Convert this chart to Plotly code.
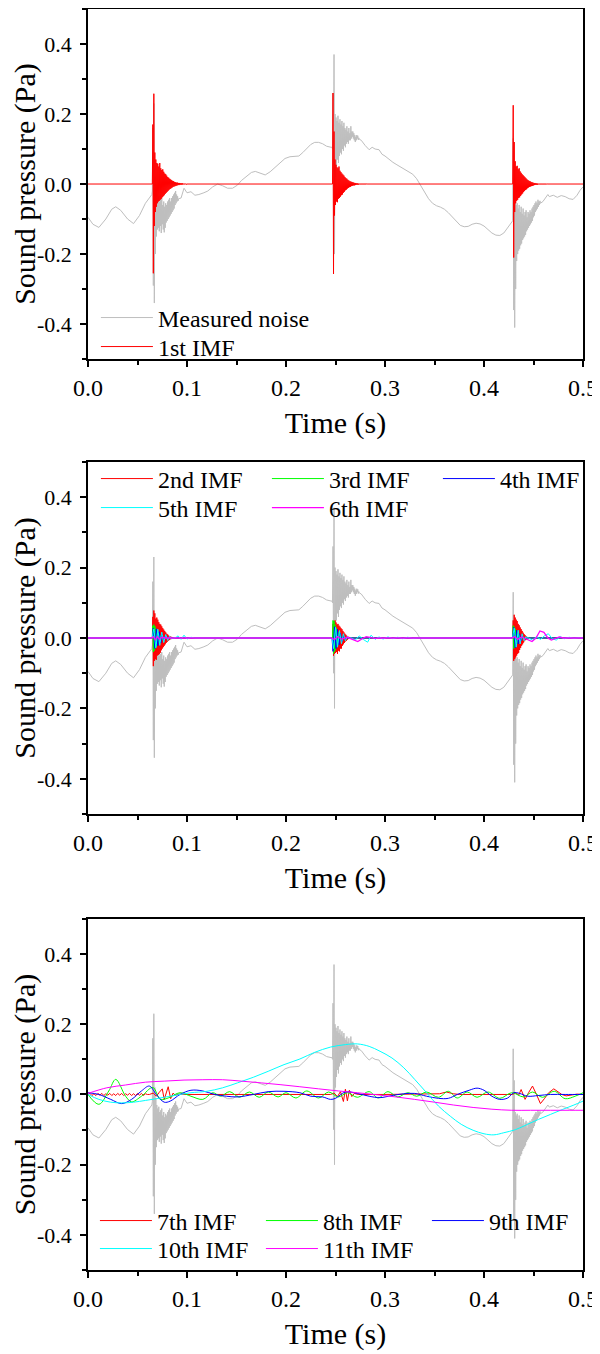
import plotly.graph_objects as go

DT = 0.0005      # sampling step of the burst segments (s)
FUZZ_DT = 0.002  # sampling step of the 7th-IMF ripple segment (s)

# ---------------- tick labels ----------------
time_ticks = [0.0, 0.1, 0.2, 0.3, 0.4, 0.5]
time_tick_labels = ["0.0", "0.1", "0.2", "0.3", "0.4", "0.5"]
pressure_ticks = [-0.4, -0.2, 0.0, 0.2, 0.4]
pressure_tick_labels = ["-0.4", "-0.2", "0.0", "0.2", "0.4"]

# ---------------- measured noise (gray) ----------------
noise_pre_t = [0.000, 0.005, 0.011, 0.018, 0.024, 0.028, 0.033, 0.040, 0.046, 0.052, 0.058, 0.063]
noise_pre_p = [-0.095, -0.115, -0.124, -0.100, -0.072, -0.065, -0.075, -0.100, -0.113, -0.090, -0.055, -0.035]
noise_burst1_start = 0.0645
noise_burst1_p = [-0.030, -0.020, 0.160, -0.290, 0.230, -0.340, 0.020, -0.200, -0.010, -0.150,
                  -0.030, -0.130, -0.040, -0.125, -0.035, -0.135, -0.050, -0.120, -0.045, -0.140,
                  -0.040, -0.115, -0.060, -0.130, -0.050, -0.138, -0.065, -0.125, -0.055, -0.110,
                  -0.060, -0.105, -0.050, -0.100, -0.045, -0.095, -0.040, -0.090, -0.050, -0.085,
                  -0.040, -0.080, -0.035, -0.075, -0.030, -0.070, -0.025, -0.060, -0.020, -0.055,
                  -0.030, -0.050, -0.035, -0.048, -0.042]
noise_mid1_t = [0.094, 0.097, 0.100, 0.104, 0.108, 0.112, 0.117, 0.121, 0.126, 0.131,
                0.136, 0.141, 0.146, 0.151, 0.155, 0.160, 0.165, 0.169, 0.174, 0.179,
                0.184, 0.189, 0.194, 0.199, 0.204, 0.209, 0.213, 0.217, 0.221, 0.225,
                0.229, 0.233, 0.237, 0.241, 0.2455]
noise_mid1_p = [-0.040, -0.012, -0.025, -0.022, -0.032, -0.030, -0.025, -0.020, -0.008, 0.000,
                -0.005, -0.012, -0.012, -0.003, 0.010, 0.022, 0.033, 0.036, 0.030, 0.026,
                0.035, 0.048, 0.062, 0.073, 0.078, 0.079, 0.080, 0.090, 0.102, 0.113,
                0.119, 0.119, 0.115, 0.108, 0.105]
noise_burst2_start = 0.2465
noise_burst2_p = [0.105, 0.100, 0.260, -0.100, 0.370, -0.200, 0.200, 0.020, 0.190, 0.050,
                  0.180, 0.070, 0.195, 0.060, 0.175, 0.080, 0.185, 0.090, 0.170, 0.085,
                  0.180, 0.100, 0.165, 0.095, 0.175, 0.110, 0.160, 0.105, 0.155, 0.115,
                  0.165, 0.120, 0.150, 0.115, 0.160, 0.125, 0.145, 0.125, 0.165, 0.130,
                  0.150, 0.135, 0.150, 0.130, 0.145, 0.125, 0.140, 0.120, 0.135, 0.125,
                  0.140, 0.130, 0.138, 0.126, 0.132, 0.128]
noise_mid2_t = [0.276, 0.280, 0.284, 0.287, 0.290, 0.294, 0.297, 0.300, 0.304, 0.308,
                0.312, 0.316, 0.320, 0.324, 0.328, 0.332, 0.336, 0.340, 0.344, 0.348,
                0.352, 0.356, 0.360, 0.364, 0.368, 0.372, 0.376, 0.380, 0.384, 0.388,
                0.392, 0.396, 0.400, 0.404, 0.408, 0.412, 0.416, 0.420, 0.424, 0.4275]
noise_mid2_p = [0.125, 0.110, 0.098, 0.105, 0.100, 0.098, 0.085, 0.080, 0.070, 0.062,
                0.055, 0.048, 0.042, 0.035, 0.028, 0.015, -0.005, -0.025, -0.042, -0.055,
                -0.062, -0.066, -0.072, -0.082, -0.095, -0.108, -0.118, -0.122, -0.121, -0.115,
                -0.112, -0.114, -0.120, -0.130, -0.140, -0.146, -0.147, -0.140, -0.125, -0.112]
noise_burst3_start = 0.4285
noise_burst3_p = [-0.110, -0.105, 0.130, -0.360, 0.040, -0.410, -0.050, -0.300, -0.060, -0.220,
                  -0.055, -0.200, -0.070, -0.190, -0.060, -0.185, -0.080, -0.175, -0.065, -0.170,
                  -0.085, -0.160, -0.070, -0.155, -0.090, -0.150, -0.080, -0.145, -0.075, -0.135,
                  -0.095, -0.130, -0.080, -0.125, -0.085, -0.120, -0.075, -0.115, -0.080, -0.110,
                  -0.070, -0.105, -0.065, -0.095, -0.060, -0.090, -0.055, -0.080, -0.050, -0.075,
                  -0.055, -0.070, -0.045, -0.065, -0.050, -0.060, -0.048, -0.055]
noise_post_t = [0.4595, 0.462, 0.4645, 0.466, 0.470, 0.474, 0.478, 0.482, 0.486, 0.490, 0.494, 0.497, 0.500]
noise_post_p = [-0.050, -0.040, -0.030, -0.036, -0.032, -0.038, -0.033, -0.036, -0.042, -0.044, -0.032, -0.018, -0.008]

# ---------------- 1st IMF ----------------
burst_starts = [0.065, 0.247, 0.429]
imf1_burst1 = [0.000, 0.170, -0.255, 0.258, -0.120, 0.090, -0.080, 0.070, -0.065, 0.060,
               -0.055, 0.058, -0.050, 0.050, -0.048, 0.060, -0.045, 0.045, -0.042, 0.040,
               -0.038, 0.042, -0.035, 0.035, -0.032, 0.030, -0.028, 0.028, -0.025, 0.024,
               -0.022, 0.020, -0.019, 0.018, -0.016, 0.015, -0.014, 0.013, -0.012, 0.011,
               -0.010, 0.009, -0.008, 0.008, -0.007, 0.006, -0.006, 0.005, -0.005, 0.004,
               -0.004, 0.004, -0.003, 0.003, -0.003, 0.003, -0.002, 0.002, -0.002, 0.002,
               -0.002, 0.002, -0.001, 0.001, -0.001, 0.001, -0.001, 0.001, -0.001, 0.001,
               0.000]
imf1_burst2 = [0.000, 0.260, -0.257, 0.150, -0.090, 0.070, -0.060, 0.055, -0.050, 0.048,
               -0.052, 0.045, -0.042, 0.050, -0.040, 0.038, -0.036, 0.034, -0.032, 0.030,
               -0.030, 0.027, -0.025, 0.024, -0.022, 0.020, -0.018, 0.017, -0.016, 0.015,
               -0.013, 0.012, -0.011, 0.010, -0.009, 0.008, -0.008, 0.007, -0.006, 0.006,
               -0.005, 0.005, -0.004, 0.004, -0.004, 0.003, -0.003, 0.003, -0.002, 0.002,
               -0.002, 0.002, -0.002, 0.001, -0.001, 0.001, -0.001, 0.001, -0.001, 0.001,
               -0.001, 0.001, -0.001, 0.001, -0.001, 0.001, -0.001, 0.001, -0.001, 0.001,
               0.000]
imf1_burst3 = [0.000, 0.225, -0.210, 0.120, -0.080, 0.065, -0.055, 0.050, -0.048, 0.052,
               -0.045, 0.042, -0.040, 0.045, -0.038, 0.036, -0.034, 0.032, -0.030, 0.028,
               -0.027, 0.025, -0.023, 0.022, -0.020, 0.019, -0.017, 0.016, -0.015, 0.013,
               -0.012, 0.011, -0.010, 0.009, -0.008, 0.008, -0.007, 0.006, -0.006, 0.005,
               -0.005, 0.004, -0.004, 0.003, -0.003, 0.003, -0.002, 0.002, -0.002, 0.002,
               -0.002, 0.001, -0.001, 0.001, -0.001, 0.001, -0.001, 0.001, -0.001, 0.001,
               -0.001, 0.001, -0.001, 0.001, -0.001, 0.001, -0.001, 0.001, -0.001, 0.001,
               0.000]

# ---------------- 2nd - 6th IMF ----------------
imf2_burst1 = [0.000, 0.060, -0.080, 0.078, -0.065, 0.070, -0.060, 0.055, -0.062, 0.058,
               -0.050, 0.052, -0.048, 0.045, -0.046, 0.040, -0.042, 0.038, -0.035, 0.033,
               -0.030, 0.028, -0.026, 0.024, -0.022, 0.020, -0.018, 0.016, -0.014, 0.012,
               -0.011, 0.010, -0.008, 0.007, -0.006, 0.005, -0.004, 0.004, -0.003, 0.003,
               -0.002, 0.002, -0.002, 0.001, -0.001, 0.001, 0.000]
imf2_burst2 = [0.000, 0.040, -0.050, 0.048, -0.045, 0.050, -0.042, 0.044, -0.040, 0.038,
               -0.045, 0.040, -0.036, 0.035, -0.038, 0.032, -0.030, 0.028, -0.030, 0.025,
               -0.022, 0.020, -0.018, 0.016, -0.014, 0.012, -0.010, 0.009, -0.008, 0.006,
               -0.005, 0.004, -0.003, 0.003, -0.002, 0.002, -0.001, 0.001, 0.000]
imf2_burst3 = [0.000, 0.050, -0.065, 0.066, -0.060, 0.058, -0.055, 0.052, -0.050, 0.048,
               -0.045, 0.040, -0.042, 0.036, -0.034, 0.030, -0.028, 0.025, -0.022, 0.020,
               -0.018, 0.015, -0.013, 0.011, -0.009, 0.008, -0.006, 0.005, -0.004, 0.003,
               -0.002, 0.002, -0.001, 0.001, 0.000]
imf3_burst1 = [0.000, 0.035, -0.040, 0.038, -0.036, 0.034, -0.030, 0.028, -0.026, 0.022,
               -0.020, 0.017, -0.015, 0.012, -0.010, 0.008, -0.006, 0.005, -0.004, 0.003,
               -0.002, 0.001, 0.000]
imf3_burst2 = [0.000, 0.050, -0.045, 0.048, -0.040, 0.038, -0.035, 0.030, -0.028, 0.024,
               -0.020, 0.017, -0.014, 0.011, -0.009, 0.007, -0.005, 0.004, -0.003, 0.002,
               -0.001, 0.000]
imf3_burst3 = [0.000, 0.035, -0.030, 0.032, -0.028, 0.026, -0.024, 0.020, -0.018, 0.015,
               -0.012, 0.010, -0.008, 0.006, -0.004, 0.003, -0.002, 0.001, 0.000]
imf4_burst1 = [0.000, 0.015, 0.028, 0.010, -0.020, -0.030, -0.012, 0.018, 0.026, 0.010,
               -0.016, -0.022, -0.008, 0.014, 0.018, 0.006, -0.011, -0.014, -0.005, 0.008,
               0.010, 0.003, -0.006, -0.007, -0.002, 0.004, 0.005, 0.001, -0.003, -0.003,
               0.000, 0.002, 0.001, 0.000]
imf4_burst2 = [0.000, -0.020, -0.038, -0.015, 0.020, 0.032, 0.012, -0.022, -0.030, -0.010,
               0.018, 0.025, 0.008, -0.014, -0.020, -0.006, 0.011, 0.014, 0.004, -0.008,
               -0.010, -0.003, 0.005, 0.006, 0.002, -0.003, -0.004, -0.001, 0.002, 0.002,
               0.000]
imf4_burst3 = [0.000, 0.018, 0.030, 0.010, -0.020, -0.028, -0.010, 0.016, 0.022, 0.007,
               -0.013, -0.017, -0.005, 0.010, 0.012, 0.004, -0.007, -0.008, -0.002, 0.004,
               0.005, 0.001, -0.002, -0.002, 0.000]
imf5_burst1 = [0.000, 0.012, 0.022, 0.026, 0.015, -0.005, -0.022, -0.028, -0.018, 0.002,
               0.020, 0.025, 0.016, -0.002, -0.017, -0.021, -0.012, 0.003, 0.014, 0.017,
               0.010, -0.002, -0.011, -0.013, -0.008, 0.001, 0.008, 0.010, 0.006, -0.001,
               -0.006, -0.007, -0.004, 0.001, 0.004, 0.005, 0.003, 0.000, -0.003, -0.003,
               -0.002, 0.000]
imf5_tail1_t = [0.0865, 0.089, 0.091, 0.094, 0.097, 0.100, 0.104, 0.108]
imf5_tail1_p = [0.000, 0.002, 0.006, -0.004, 0.008, -0.003, 0.002, 0.000]
imf5_burst2 = [0.000, -0.010, -0.025, -0.030, -0.020, 0.002, 0.022, 0.030, 0.020, -0.002,
               -0.020, -0.026, -0.016, 0.002, 0.017, 0.021, 0.012, -0.002, -0.013, -0.016,
               -0.010, 0.001, 0.010, 0.012, 0.007, -0.001, -0.007, -0.008, -0.005, 0.000,
               0.004, 0.005, 0.003, 0.000, -0.002, -0.002, 0.000]
imf5_tail2_t = [0.266, 0.270, 0.274, 0.278, 0.2825, 0.286, 0.290, 0.294, 0.298, 0.303,
                0.308, 0.313, 0.318, 0.323, 0.328, 0.333]
imf5_tail2_p = [0.000, -0.006, 0.006, -0.004, -0.012, 0.008, -0.004, 0.003, -0.003, 0.003,
                -0.002, 0.002, -0.002, 0.002, -0.001, 0.000]
imf5_burst3 = [0.000, 0.012, 0.024, 0.028, 0.016, -0.004, -0.022, -0.026, -0.015, 0.003,
               0.018, 0.022, 0.012, -0.003, -0.014, -0.017, -0.009, 0.002, 0.010, 0.012,
               0.006, -0.002, -0.007, -0.008, -0.004, 0.001, 0.004, 0.004, 0.002, 0.000]
imf5_tail3_t = [0.445, 0.449, 0.453, 0.457, 0.461, 0.465, 0.469, 0.473, 0.477, 0.481,
                0.486, 0.491, 0.496, 0.500]
imf5_tail3_p = [0.000, -0.006, 0.004, -0.004, 0.006, 0.012, -0.002, -0.006, 0.004, -0.002,
                0.002, -0.001, 0.001, 0.000]
imf6_t = [0.000, 0.064, 0.066, 0.068, 0.070, 0.072, 0.075, 0.078, 0.246, 0.249,
          0.252, 0.256, 0.262, 0.268, 0.2725, 0.277, 0.281, 0.286, 0.290, 0.295,
          0.428, 0.431, 0.434, 0.438, 0.443, 0.4485, 0.4525, 0.4565, 0.4605, 0.4645,
          0.468, 0.472, 0.476, 0.480, 0.500]
imf6_p = [0.000, 0.000, 0.004, -0.005, 0.004, -0.003, 0.002, 0.000, 0.000, -0.005,
          0.004, -0.003, 0.002, -0.004, -0.010, -0.002, 0.004, 0.001, -0.001, 0.000,
          0.000, 0.004, -0.004, 0.003, -0.004, -0.010, 0.000, 0.020, 0.016, 0.000,
          -0.006, -0.002, 0.003, 0.000, 0.000]

# ---------------- 7th - 11th IMF ----------------
imf7_ripple = [0.000, 0.003, -0.003, 0.002, -0.003, 0.003, -0.002, 0.003, -0.003, 0.002,
               -0.002, 0.003, -0.003, 0.002, -0.003, 0.003, -0.002, 0.003, -0.003, 0.002,
               -0.002, 0.003, -0.003, 0.002, -0.003, 0.003, -0.002, 0.003, -0.003, 0.002,
               0.000]
imf7_t = [0.062, 0.066, 0.069, 0.072, 0.075, 0.077, 0.079, 0.081, 0.0835, 0.086,
          0.088, 0.092, 0.100, 0.140, 0.180, 0.220, 0.245, 0.2485, 0.252, 0.255,
          0.258, 0.260, 0.262, 0.264, 0.2665, 0.269, 0.273, 0.300, 0.340, 0.355,
          0.362, 0.369, 0.375, 0.420, 0.429, 0.432, 0.435, 0.4375, 0.4415, 0.445,
          0.449, 0.453, 0.457, 0.461, 0.465, 0.4705, 0.4745, 0.4785, 0.483, 0.488,
          0.494, 0.500]
imf7_p = [0.000, 0.004, -0.005, 0.006, 0.016, -0.014, 0.008, 0.022, -0.012, 0.004,
          -0.002, 0.001, 0.000, 0.000, 0.001, 0.000, 0.000, 0.004, -0.006, 0.008,
          -0.020, 0.015, -0.018, 0.012, -0.006, 0.003, 0.000, 0.000, 0.000, 0.002,
          0.007, 0.002, 0.000, 0.000, 0.000, 0.005, -0.002, 0.014, -0.014, 0.005,
          0.024, 0.000, -0.026, -0.012, 0.004, 0.016, 0.008, 0.000, -0.004, -0.002,
          0.001, 0.000]
imf8_t = [0.000, 0.011, 0.021, 0.028, 0.038, 0.044, 0.054, 0.0655, 0.073, 0.081,
          0.093, 0.104, 0.116, 0.126, 0.134, 0.143, 0.153, 0.163, 0.173, 0.182,
          0.192, 0.200, 0.210, 0.221, 0.233, 0.243, 0.253, 0.262, 0.272, 0.284,
          0.293, 0.303, 0.313, 0.323, 0.332, 0.342, 0.354, 0.364, 0.373, 0.383,
          0.393, 0.404, 0.416, 0.428, 0.440, 0.449, 0.459, 0.471, 0.482, 0.492,
          0.500]
imf8_p = [0.000, -0.028, 0.010, 0.043, -0.005, -0.021, -0.005, 0.020, -0.014, -0.010,
          0.005, -0.005, -0.014, 0.005, -0.005, 0.008, -0.008, 0.007, -0.008, 0.007,
          -0.007, 0.005, -0.010, 0.010, -0.010, 0.007, -0.007, 0.005, -0.008, 0.008,
          -0.010, 0.008, -0.007, 0.005, -0.005, 0.007, -0.008, 0.009, -0.010, 0.007,
          -0.008, 0.007, -0.011, 0.005, -0.007, 0.007, -0.008, 0.009, -0.012, -0.005,
          0.005]
imf9_t = [0.000, 0.011, 0.023, 0.034, 0.044, 0.054, 0.062, 0.069, 0.077, 0.083,
          0.093, 0.104, 0.116, 0.128, 0.140, 0.151, 0.167, 0.182, 0.198, 0.214,
          0.225, 0.237, 0.245, 0.250, 0.260, 0.272, 0.284, 0.295, 0.307, 0.319,
          0.330, 0.342, 0.354, 0.364, 0.373, 0.385, 0.393, 0.400, 0.408, 0.416,
          0.424, 0.430, 0.436, 0.444, 0.455, 0.467, 0.482, 0.500]
imf9_p = [0.005, 0.000, -0.014, -0.026, -0.014, 0.010, 0.024, 0.000, -0.022, -0.019,
          0.000, 0.012, 0.010, 0.000, -0.005, -0.007, 0.000, 0.008, 0.009, 0.005,
          -0.005, -0.007, -0.014, -0.011, 0.007, 0.003, -0.005, -0.009, -0.003, 0.002,
          0.003, -0.005, -0.011, -0.011, 0.000, 0.012, 0.018, 0.012, -0.005, -0.014,
          -0.010, 0.005, 0.003, -0.005, -0.003, 0.000, 0.000, 0.000]
imf10_t = [0.000, 0.011, 0.023, 0.034, 0.046, 0.058, 0.069, 0.081, 0.093, 0.104,
           0.120, 0.136, 0.151, 0.167, 0.182, 0.198, 0.214, 0.229, 0.245, 0.260,
           0.272, 0.284, 0.295, 0.307, 0.319, 0.330, 0.342, 0.354, 0.366, 0.377,
           0.389, 0.400, 0.410, 0.420, 0.432, 0.444, 0.455, 0.467, 0.479, 0.490,
           0.500]
imf10_p = [0.000, -0.014, -0.022, -0.024, -0.022, -0.017, -0.012, -0.006, 0.000, 0.005,
           0.009, 0.019, 0.033, 0.049, 0.066, 0.085, 0.101, 0.120, 0.135, 0.142,
           0.144, 0.137, 0.123, 0.104, 0.076, 0.043, 0.005, -0.033, -0.062, -0.085,
           -0.102, -0.112, -0.115, -0.109, -0.100, -0.085, -0.071, -0.057, -0.043, -0.031,
           -0.019]
imf11_t = [0.000, 0.019, 0.038, 0.058, 0.077, 0.097, 0.116, 0.136, 0.155, 0.175,
           0.194, 0.214, 0.233, 0.253, 0.272, 0.292, 0.311, 0.330, 0.350, 0.369,
           0.389, 0.408, 0.428, 0.447, 0.467, 0.486, 0.500]
imf11_p = [0.003, 0.019, 0.027, 0.035, 0.038, 0.041, 0.042, 0.042, 0.038, 0.033,
           0.028, 0.022, 0.016, 0.010, 0.005, -0.001, -0.007, -0.014, -0.022, -0.030,
           -0.037, -0.042, -0.045, -0.045, -0.045, -0.045, -0.045]

# ---------------- colours ----------------
GRAY = "#BEBEBE"
RED = "#FF0000"
GREEN = "#00FF00"
BLUE = "#0000FF"
CYAN = "#00FFFF"
MAGENTA = "#FF00FF"
FONT = "Liberation Serif"


def seg(start, vals, step=DT):
    return [round(start + i * step, 6) for i in range(len(vals))], list(vals)


def assemble(*pieces):
    t, p = [], []
    for pt, pp in pieces:
        t += list(pt)
        p += list(pp)
    return t, p


ZERO_START = ([0.0], [0.0])
ZERO_END = ([0.5], [0.0])

noise = assemble((noise_pre_t, noise_pre_p), seg(noise_burst1_start, noise_burst1_p),
                 (noise_mid1_t, noise_mid1_p), seg(noise_burst2_start, noise_burst2_p),
                 (noise_mid2_t, noise_mid2_p), seg(noise_burst3_start, noise_burst3_p),
                 (noise_post_t, noise_post_p))

imf1 = assemble(ZERO_START, seg(burst_starts[0], imf1_burst1), seg(burst_starts[1], imf1_burst2),
                seg(burst_starts[2], imf1_burst3), ZERO_END)
imf2 = assemble(ZERO_START, seg(burst_starts[0], imf2_burst1), seg(burst_starts[1], imf2_burst2),
                seg(burst_starts[2], imf2_burst3), ZERO_END)
imf3 = assemble(ZERO_START, seg(burst_starts[0], imf3_burst1), seg(burst_starts[1], imf3_burst2),
                seg(burst_starts[2], imf3_burst3), ZERO_END)
imf4 = assemble(ZERO_START, seg(burst_starts[0], imf4_burst1), seg(0.2465, imf4_burst2),
                seg(burst_starts[2], imf4_burst3), ZERO_END)
imf5 = assemble(ZERO_START, seg(burst_starts[0], imf5_burst1), (imf5_tail1_t, imf5_tail1_p),
                seg(0.2465, imf5_burst2), (imf5_tail2_t, imf5_tail2_p),
                seg(burst_starts[2], imf5_burst3), (imf5_tail3_t, imf5_tail3_p))
imf6 = (imf6_t, imf6_p)
imf7 = assemble(seg(0.0, imf7_ripple, FUZZ_DT), (imf7_t, imf7_p))

fig = go.Figure()

# panel 1
fig.add_trace(go.Scatter(x=noise[0], y=noise[1], mode="lines", name="Measured noise",
                         line=dict(color=GRAY, width=1), xaxis="x", yaxis="y", legend="legend"))
fig.add_trace(go.Scatter(x=imf1[0], y=imf1[1], mode="lines", name="1st IMF",
                         line=dict(color=RED, width=1), xaxis="x", yaxis="y", legend="legend2"))

# panel 2
fig.add_trace(go.Scatter(x=noise[0], y=noise[1], mode="lines", showlegend=False,
                         line=dict(color=GRAY, width=1), xaxis="x2", yaxis="y2"))
panel2 = [(imf2, "2nd IMF", RED, "legend3", None, 1),
          (imf3, "3rd IMF", GREEN, "legend3", None, 1),
          (imf4, "4th IMF", BLUE, "legend3", 85, 1),
          (imf5, "5th IMF", CYAN, "legend4", None, 1),
          (imf6, "6th IMF", MAGENTA, "legend4", None, 1.3)]
for (tt, pp), name, col, leg, lw, wd in panel2:
    fig.add_trace(go.Scatter(x=tt, y=pp, mode="lines", name=name, line=dict(color=col, width=wd),
                             xaxis="x2", yaxis="y2", legend=leg, legendwidth=lw))

# panel 3
fig.add_trace(go.Scatter(x=noise[0], y=noise[1], mode="lines", showlegend=False,
                         line=dict(color=GRAY, width=1), xaxis="x3", yaxis="y3"))
panel3 = [(imf7, "7th IMF", RED, "legend5", None, "linear"),
          ((imf8_t, imf8_p), "8th IMF", GREEN, "legend5", None, "spline"),
          ((imf9_t, imf9_p), "9th IMF", BLUE, "legend5", 85, "spline"),
          ((imf10_t, imf10_p), "10th IMF", CYAN, "legend6", None, "spline"),
          ((imf11_t, imf11_p), "11th IMF", MAGENTA, "legend6", None, "spline")]
for (tt, pp), name, col, leg, lw, shape in panel3:
    fig.add_trace(go.Scatter(x=tt, y=pp, mode="lines", name=name,
                             line=dict(color=col, width=1, shape=shape),
                             xaxis="x3", yaxis="y3", legend=leg, legendwidth=lw))

xtickfont = dict(family=FONT, size=24, color="black")
ytickfont = dict(family=FONT, size=22, color="black")
titlefont = dict(family=FONT, size=30, color="black")


def xax(anchor):
    return dict(anchor=anchor, domain=[0, 1], range=[0, 0.5], tickmode="array",
                tickvals=time_ticks, ticktext=time_tick_labels, ticks="outside", ticklen=6,
                tickwidth=1.5, tickcolor="black", showline=True, linecolor="black",
                linewidth=1.6, mirror=True, showgrid=False, zeroline=False,
                minor=dict(tickmode="linear", tick0=0, dtick=0.05, ticks="outside",
                           ticklen=4, tickwidth=1.5, tickcolor="black", showgrid=False),
                tickfont=xtickfont, automargin=False,
                title=dict(text="Time (s)", font=titlefont, standoff=12))


def yax(anchor, dom):
    return dict(anchor=anchor, domain=dom, range=[-0.5, 0.5], tickmode="array",
                tickvals=pressure_ticks, ticktext=pressure_tick_labels, ticks="outside",
                ticklen=6, tickwidth=1.5, tickcolor="black", showline=True, linecolor="black",
                linewidth=1.6, mirror=True, showgrid=False, zeroline=False,
                minor=dict(tickmode="linear", tick0=-0.5, dtick=0.1, ticks="outside",
                           ticklen=4, tickwidth=1.5, tickcolor="black", showgrid=False),
                tickfont=ytickfont, automargin=False, ticklabelstandoff=4,
                title=dict(text="Sound pressure (Pa)", font=titlefont, standoff=14))


def leg(x, y, ew):
    d = dict(orientation="h", x=x, y=y, xref="paper", yref="paper", xanchor="left",
             yanchor="middle", bgcolor="rgba(0,0,0,0)", borderwidth=0,
             font=dict(family=FONT, size=24, color="black"), itemwidth=52,
             traceorder="normal", itemclick=False, itemdoubleclick=False)
    if ew:
        d["entrywidth"] = ew
        d["entrywidthmode"] = "pixels"
    return d


# the page body adds an 8 px offset, so the figure is 8 px smaller and margins shifted
fig.update_layout(
    width=592, height=1346,
    margin=dict(l=80, r=17, t=1, b=84),
    paper_bgcolor="white", plot_bgcolor="white",
    font=dict(family=FONT, color="black"),
    xaxis=xax("y"), yaxis=yax("x", [0.7224, 1.0]),
    xaxis2=xax("y2"), yaxis2=yax("x2", [0.3616, 0.6408]),
    xaxis3=xax("y3"), yaxis3=yax("x3", [0.0, 0.2784]),
    legend=leg(0.016, 0.7550, None),
    legend2=leg(0.016, 0.7320, None),
    legend3=leg(0.016, 0.6273, 104),
    legend4=leg(0.016, 0.6043, 104),
    legend5=leg(0.014, 0.0389, 99),
    legend6=leg(0.014, 0.0167, 99),
)

fig.write_html("out.html")
